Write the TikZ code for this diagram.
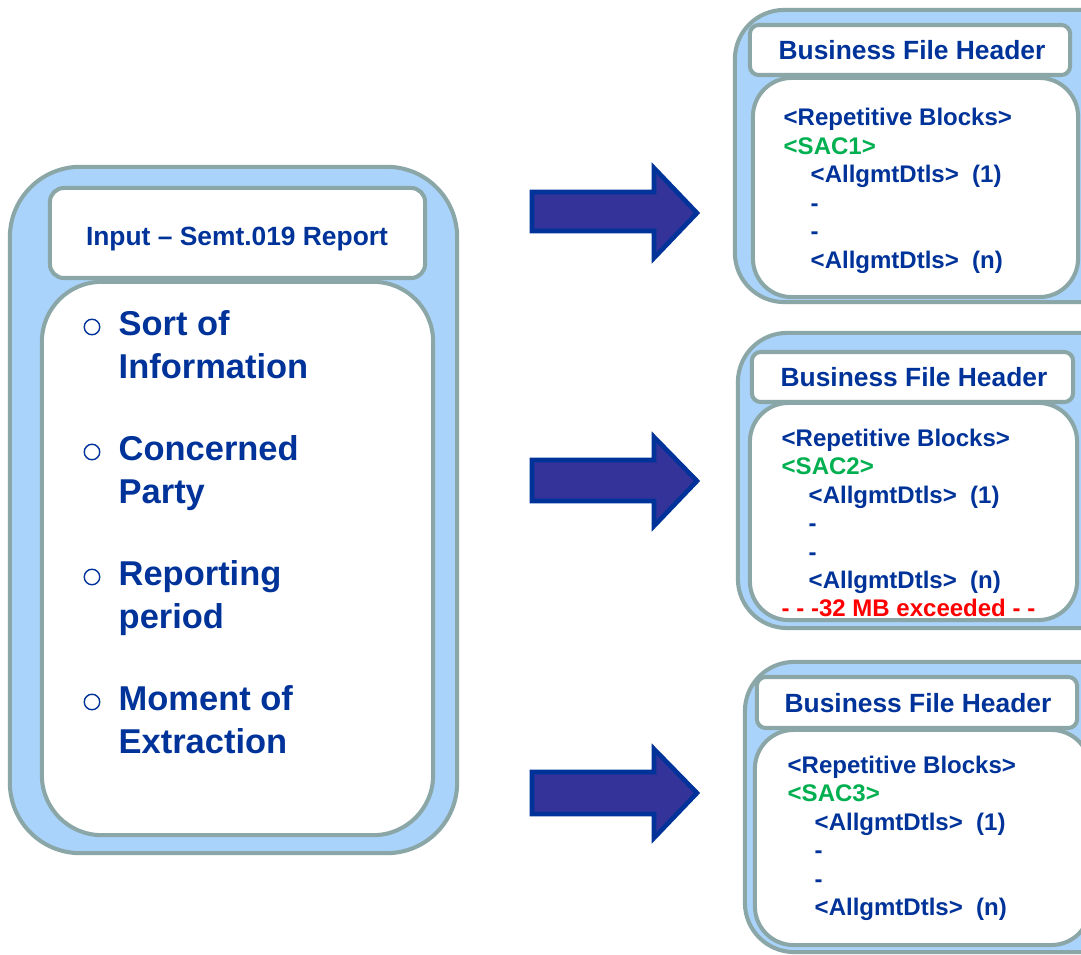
\documentclass[tikz,border=0pt]{standalone}
\usepackage{fontspec}
\setmainfont{Liberation Sans}
\definecolor{frameC}{HTML}{8BA6A6}
\definecolor{skyC}{HTML}{A9D3FA}
\definecolor{txtC}{HTML}{003399}
\definecolor{sacC}{HTML}{00B050}
\definecolor{warnC}{HTML}{FF0000}
\definecolor{arrowF}{HTML}{333399}
\definecolor{arrowD}{HTML}{003399}
\tikzset{
  frame/.style={draw=frameC, line width=1.15pt, fill=skyC, inner sep=0pt, outer sep=0pt},
  card/.style={draw=frameC, line width=1.15pt, fill=white, inner sep=0pt, outer sep=0pt},
  bigarrow/.style={fill=arrowF, draw=arrowD, line width=1.3pt, line join=miter},
  hdr/.style={text=txtC, font=\bfseries\fontsize{7.5}{9}\selectfont, anchor=base, inner sep=0pt},
  lst/.style={text=txtC, font=\bfseries\fontsize{6.83}{8.08}\selectfont, anchor=base west, inner sep=0pt},
  item/.style={text=txtC, font=\bfseries\fontsize{9.8}{11.95}\selectfont, anchor=base west, inner sep=0pt},
  bul/.style={circle, draw=txtC, line width=0.4pt, minimum size=0.155cm, inner sep=0pt}
}
\newcommand{\ind}{\hspace*{0.27cm}}
\begin{document}
\begin{tikzpicture}[x=0.01cm, y=-0.01cm]
\clip (0,0) rectangle (1081,955);
\fill[white] (0,0) rectangle (1081,955);

% ---------- left block ----------
\node[frame, rounded corners=20pt, minimum width=4.47cm, minimum height=6.86cm] (Lout) at (233.5,510) {};
\node[card, rounded corners=4pt, minimum width=3.75cm, minimum height=0.90cm] (Lhead) at (237.5,233) {};
\node[card, rounded corners=17pt, minimum width=3.91cm, minimum height=5.53cm] (Lin) at (237.5,558.5) {};
\node[hdr] (Ltitle) at (237,246) {Input – Semt.019 Report};

\node[bul] (b1) at (92,327) {};
\node[bul] (b2) at (92,452) {};
\node[bul] (b3) at (92,577) {};
\node[bul] (b4) at (92,702) {};
\node[item] (i1) at (118,336) {\begin{tabular}[t]{@{}l@{}}Sort of\\Information\end{tabular}};
\node[item] (i2) at (118,461) {\begin{tabular}[t]{@{}l@{}}Concerned\\Party\end{tabular}};
\node[item] (i3) at (118,586) {\begin{tabular}[t]{@{}l@{}}Reporting\\period\end{tabular}};
\node[item] (i4) at (118,711) {\begin{tabular}[t]{@{}l@{}}Moment of\\Extraction\end{tabular}};

% ---------- arrows ----------
\coordinate (a1) at (697,213);
\coordinate (a2) at (697,481);
\coordinate (a3) at (697,793);
\draw[bigarrow] (532,192) -- (654,192) -- (654,168) -- (a1) -- (654,258) -- (654,231) -- (532,231) -- cycle;
\draw[bigarrow] (532,460) -- (654,460) -- (654,437) -- (a2) -- (654,526) -- (654,501) -- (532,501) -- cycle;
\draw[bigarrow] (532,772) -- (654,772) -- (654,749) -- (a3) -- (654,838) -- (654,814) -- (532,814) -- cycle;

% ---------- right block 1 ----------
\node[frame, rounded corners=14pt, minimum width=3.95cm, minimum height=2.92cm] (R1out) at (932.5,156) {};
\node[card, rounded corners=11pt, minimum width=3.25cm, minimum height=2.19cm] (R1in) at (915.5,187.5) {};
\node[card, rounded corners=2.5pt, minimum width=3.20cm, minimum height=0.50cm] (R1head) at (910,50) {};
\node[hdr] (R1title) at (912,60) {Business File Header};
\node[lst] (R1text) at (783,126) {\begin{tabular}[t]{@{}l@{}}
<Repetitive Blocks>\\
\textcolor{sacC}{<SAC1>}\\
\ind <AllgmtDtls>\ \ (1)\\
\ind -\\
\ind -\\
\ind <AllgmtDtls>\ \ (n)
\end{tabular}};

% ---------- right block 2 ----------
\node[frame, rounded corners=14pt, minimum width=3.92cm, minimum height=2.95cm] (R2out) at (934,480.5) {};
\node[card, rounded corners=11pt, minimum width=3.27cm, minimum height=2.17cm] (R2in) at (913.5,511.5) {};
\node[card, rounded corners=2.5pt, minimum width=3.21cm, minimum height=0.50cm] (R2head) at (912.5,377) {};
\node[hdr] (R2title) at (914,386.5) {Business File Header};
\node[lst] (R2text) at (781,446.5) {\begin{tabular}[t]{@{}l@{}}
<Repetitive Blocks>\\
\textcolor{sacC}{<SAC2>}\\
\ind <AllgmtDtls>\ \ (1)\\
\ind -\\
\ind -\\
\ind <AllgmtDtls>\ \ (n)\\
\textcolor{warnC}{- - -32 MB exceeded - -}
\end{tabular}};

% ---------- right block 3 ----------
\node[frame, rounded corners=14pt, minimum width=3.85cm, minimum height=2.90cm] (R3out) at (937.5,807) {};
\node[card, rounded corners=11pt, minimum width=3.35cm, minimum height=2.15cm] (R3in) at (922.5,837.5) {};
\node[card, rounded corners=2.5pt, minimum width=3.20cm, minimum height=0.51cm] (R3head) at (917,702.5) {};
\node[hdr] (R3title) at (918,713) {Business File Header};
\node[lst] (R3text) at (787,773.5) {\begin{tabular}[t]{@{}l@{}}
<Repetitive Blocks>\\
\textcolor{sacC}{<SAC3>}\\
\ind <AllgmtDtls>\ \ (1)\\
\ind -\\
\ind -\\
\ind <AllgmtDtls>\ \ (n)
\end{tabular}};
\end{tikzpicture}
\end{document}
